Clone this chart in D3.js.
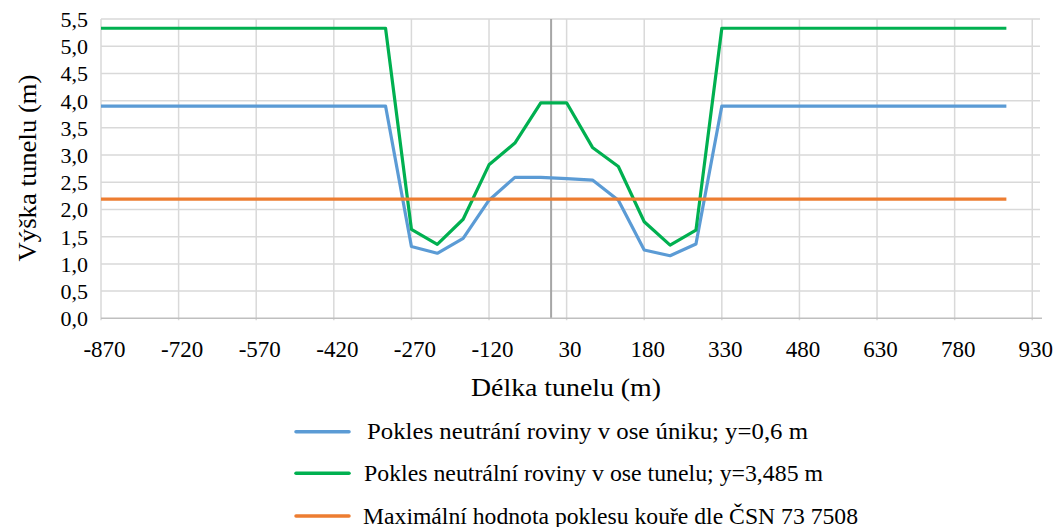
<!DOCTYPE html>
<html>
<head>
<meta charset="utf-8">
<script src="https://cdn.jsdelivr.net/npm/d3@7"></script>
<style>
  html, body { margin: 0; padding: 0; background: #fff; }
  text { font-family: "Liberation Serif", "Times New Roman", serif; fill: #000; }
</style>
</head>
<body>
<svg id="chart" width="1064" height="527"></svg>
<script>
// ---- data ----
const xPositions = [-870, -320, -270, -220, -170, -120, -70, -20, 30, 80, 130, 180, 230, 280, 330, 880];
const blueValues = [3.90, 3.90, 1.32, 1.195, 1.47, 2.17, 2.59, 2.59, 2.565, 2.54, 2.17, 1.255, 1.15, 1.365, 3.90, 3.90];
const greenValues = [5.33, 5.33, 1.635, 1.36, 1.82, 2.82, 3.22, 3.96, 3.96, 3.14, 2.79, 1.775, 1.345, 1.62, 5.33, 5.33];
const orangeX = [-870, 880];
const orangeValues = [2.19, 2.19];
const xTicks = [-870, -720, -570, -420, -270, -120, 30, 180, 330, 480, 630, 780, 930];
const yTicks = [0, 0.5, 1, 1.5, 2, 2.5, 3, 3.5, 4, 4.5, 5, 5.5];
const seriesNames = [
  "Pokles neutrání roviny v ose úniku; y=0,6 m",
  "Pokles neutrální roviny v ose tunelu; y=3,485 m",
  "Maximální hodnota poklesu kouře dle ČSN 73 7508"
];
const seriesColors = ["#5B9BD5", "#00B050", "#ED7D31"];
const xTitle = "Délka tunelu (m)";
const yTitle = "Výška tunelu (m)";

// ---- layout ----
const svg = d3.select("#chart");
const pLeft = 101, pRight = 1040, pTop = 19, pBottom = 318.3;
const x = d3.scaleLinear().domain([-870, 945]).range([pLeft, pRight]);
const y = d3.scaleLinear().domain([0, 5.5]).range([pBottom, pTop]);

// horizontal gridlines
svg.append("g").selectAll("line").data(yTicks.slice(1)).join("line")
  .attr("x1", pLeft).attr("x2", pRight)
  .attr("y1", d => y(d)).attr("y2", d => y(d))
  .attr("stroke", "#d9d9d9").attr("stroke-width", 1.5);

// vertical gridlines
svg.append("g").selectAll("line").data(xTicks).join("line")
  .attr("x1", d => x(d)).attr("x2", d => x(d))
  .attr("y1", pTop).attr("y2", pBottom + 2)
  .attr("stroke", "#d9d9d9").attr("stroke-width", 1.5);

// vertical axis at x = 0
svg.append("line")
  .attr("x1", x(0)).attr("x2", x(0))
  .attr("y1", pTop).attr("y2", pBottom)
  .attr("stroke", "#a6a6a6").attr("stroke-width", 2);

// x axis baseline
svg.append("line")
  .attr("x1", pLeft).attr("x2", pRight + 2)
  .attr("y1", pBottom).attr("y2", pBottom)
  .attr("stroke", "#bfbfbf").attr("stroke-width", 1.5);

// x tick labels via axis
const xAxis = d3.axisBottom(x).tickValues(xTicks).tickSize(0).tickPadding(0)
  .tickFormat(d => String(d));
const gx = svg.append("g").attr("transform", `translate(0,${pBottom})`).call(xAxis);
gx.select(".domain").remove();
gx.selectAll("text")
  .attr("y", 39).attr("dy", null)
  .attr("dx", 3)
  .style("font-family", "Liberation Serif")
  .style("font-size", "23px").attr("fill", "#000");

// y tick labels via axis
const fmt = d3.format(".1f");
const yAxis = d3.axisLeft(y).tickValues(yTicks).tickSize(0).tickPadding(0)
  .tickFormat(d => fmt(d).replace(".", ","));
const gy = svg.append("g").attr("transform", `translate(${pLeft - 13},0)`).call(yAxis);
gy.select(".domain").remove();
gy.selectAll("text")
  .attr("dy", "0.34em")
  .style("font-family", "Liberation Serif")
  .style("font-size", "22px").attr("fill", "#000");

// lines
const line = d3.line().x(d => x(d[0])).y(d => y(d[1]));
const seriesData = [
  d3.zip(xPositions, blueValues),
  d3.zip(xPositions, greenValues),
  d3.zip(orangeX, orangeValues)
];
[0, 1, 2].forEach(i => {
  svg.append("path").datum(seriesData[i])
    .attr("d", line).attr("fill", "none")
    .attr("stroke", seriesColors[i]).attr("stroke-width", 3.2)
    .attr("stroke-linejoin", "round").attr("stroke-linecap", "butt");
});

// axis titles
svg.append("text").attr("x", 566).attr("y", 396)
  .attr("text-anchor", "middle")
  .attr("textLength", 190).attr("lengthAdjust", "spacingAndGlyphs")
  .style("font-size", "25px").text(xTitle);
svg.append("text").attr("transform", "translate(36,168) rotate(-90)")
  .attr("text-anchor", "middle")
  .attr("textLength", 187).attr("lengthAdjust", "spacingAndGlyphs")
  .style("font-size", "25px").text(yTitle);

// legend
const legendY = [431.7, 473.3, 516];
const textX = [367, 364, 363];
const textLen = [441, 459, 495];
const lg = svg.append("g");
seriesNames.forEach((name, i) => {
  lg.append("line")
    .attr("x1", 296).attr("x2", 349)
    .attr("y1", legendY[i]).attr("y2", legendY[i])
    .attr("stroke", seriesColors[i]).attr("stroke-width", 3.5)
    .attr("stroke-linecap", "round");
  lg.append("text").attr("x", textX[i]).attr("y", legendY[i] + 7.5)
    .attr("textLength", textLen[i]).attr("lengthAdjust", "spacingAndGlyphs")
    .style("font-size", "23.5px").text(name);
});
</script>
</body>
</html>
